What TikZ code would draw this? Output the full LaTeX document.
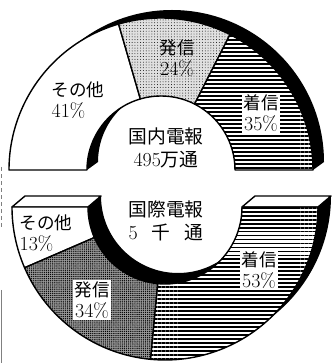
\documentclass[tikz,border=0pt]{standalone}
\usepackage{fontspec}
\newfontfamily\jp{Noto Sans CJK JP}
\usepackage{tikz}
\usetikzlibrary{patterns.meta}
\tikzset{every picture/.style={x=0.03cm, y=0.03cm, line join=round},
  face/.style={draw=black, line width=1.2pt},
  other/.style={face, fill=white},
  sendlight/.style={face, fill=black!12, postaction={pattern={Dots[distance=2.4pt, radius=0.4pt]}}},
  senddark/.style={face, fill=black!40, postaction={pattern={Dots[distance=1.8pt, radius=0.6pt]}}},
  recv/.style={face, fill=white, postaction={pattern={Lines[angle=0, distance=3.4pt, line width=1.6pt]}}},
  wall/.style={fill=black},
  lbl/.style={font=\jp\fontsize{15}{18}\selectfont, align=center, inner sep=1.5pt},
  boxed/.style={lbl, fill=white},
  title/.style={font=\jp\fontsize{16}{19}\selectfont, align=center, inner sep=0pt}}
% one piece of a ring: style, from, to, outer, inner
\newcommand{\ringpart}[5]{\path[#1] (#2:#4) arc[start angle=#2, end angle=#3, radius=#4]
  -- (#3:#5) arc[start angle=#3, end angle=#2, radius=#5] -- cycle;}
\newcommand{\num}[1]{{\rmfamily\fontsize{17}{18}\selectfont #1}}

\begin{document}
\begin{tikzpicture}
        \useasboundingbox (0,0) rectangle (331,363);

        % Draw the upper ring
        \begin{scope}[shift={(161,193)}]
          \fill[wall] (180:152) arc[start angle=180, end angle=0, radius=152] -- ++(11,8)
            arc[start angle=0, end angle=180, radius=152] -- cycle;
          \fill[wall] (180:74) arc[start angle=180, end angle=0, radius=74] -- ++(11,8)
            arc[start angle=0, end angle=180, radius=74] -- cycle;
          \ringpart{other}{180}{106.2}{152}{74}
          \ringpart{sendlight}{106.2}{63}{152}{74}
          \ringpart{recv}{63}{0}{152}{74}
        \end{scope}

        % Draw the lower ring
        \begin{scope}[shift={(165,156)}]
          \fill[wall] (180:153) arc[start angle=180, end angle=360, radius=153] -- ++(13,11)
            arc[start angle=360, end angle=180, radius=153] -- cycle;
          \fill[wall] (180:77) arc[start angle=180, end angle=360, radius=77] -- ++(13,11)
            arc[start angle=360, end angle=180, radius=77] -- cycle;
          \draw[other] (-153,0) -- (-77,0) -- (-64,11) -- (-140,11) -- cycle;
          \draw[other] (77,0) -- (153,0) -- (166,11) -- (90,11) -- cycle;
          \ringpart{other}{180}{203.4}{153}{77}
          \ringpart{senddark}{203.4}{264.6}{153}{77}
          \ringpart{recv}{264.6}{360}{153}{77}
        \end{scope}

        % Define the labels
        \node[lbl, align=left] (otherA) at (78,263) {その他\\\num{41\%}};
        \node[lbl] (sendA) at (177,305) {発信\\\num{24\%}};
        \node[boxed] (recvA) at (261,250) {着信\\\num{35\%}};
        \node[title] (titleA) at (166,215) {国内電報\\\num{495}万通};
        \node[title] (titleB) at (166,142) {国際電報\\\makebox[4em][s]{\num{5}\hfill 千\hfill 通}};
        \node[lbl, align=left] (otherB) at (46,130) {その他\\\num{13\%}};
        \node[boxed] (sendB) at (92,63) {発信\\\num{34\%}};
        \node[boxed] (recvB) at (259,93) {着信\\\num{53\%}};

        % Draw the marks at the left edge
        \draw[gray, dashed] (1.5,196) -- (1.5,133);
        \draw[gray, line width=1.5pt] (1.5,73) -- (1.5,0);
    \end{tikzpicture}
\end{document}
